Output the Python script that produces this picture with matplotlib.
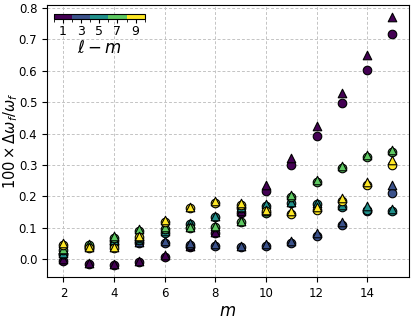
import numpy as np
import matplotlib
matplotlib.use("Agg")
import matplotlib.pyplot as plt
from matplotlib.colors import ListedColormap, BoundaryNorm
from matplotlib.cm import ScalarMappable

m = np.arange(2, 16)
l_minus_m = [1, 3, 5, 7, 9]

# circles
circ = {
    1: [-0.005, -0.015, -0.017, -0.010, 0.008, 0.038, 0.083, 0.148, 0.218, 0.300, 0.393, 0.496, 0.603, 0.716],
    3: [0.018, 0.038, 0.050, 0.052, 0.053, 0.046, 0.043, 0.039, 0.043, 0.053, 0.075, 0.110, 0.155, 0.211],
    5: [0.017, 0.042, 0.057, 0.062, 0.085, 0.112, 0.133, 0.163, 0.170, 0.178, 0.175, 0.166, 0.157, 0.155],
    7: [0.028, 0.046, 0.067, 0.090, 0.097, 0.099, 0.102, 0.118, 0.148, 0.198, 0.245, 0.290, 0.325, 0.343],
    9: [0.045, 0.035, 0.036, 0.071, 0.118, 0.162, 0.180, 0.173, 0.152, 0.145, 0.158, 0.185, 0.235, 0.300],
}
# triangles
tri = {
    1: [0.000, -0.012, -0.014, -0.007, 0.012, 0.042, 0.088, 0.152, 0.235, 0.322, 0.423, 0.530, 0.650, 0.770],
    3: [0.022, 0.042, 0.054, 0.056, 0.058, 0.051, 0.047, 0.042, 0.047, 0.057, 0.083, 0.117, 0.163, 0.237],
    5: [0.020, 0.045, 0.060, 0.066, 0.090, 0.116, 0.137, 0.166, 0.175, 0.183, 0.180, 0.172, 0.168, 0.160],
    7: [0.032, 0.050, 0.075, 0.095, 0.102, 0.104, 0.106, 0.123, 0.155, 0.205, 0.253, 0.297, 0.332, 0.348],
    9: [0.051, 0.038, 0.040, 0.075, 0.126, 0.167, 0.185, 0.178, 0.158, 0.152, 0.165, 0.195, 0.245, 0.317],
}

cmap = ListedColormap(plt.cm.viridis(np.linspace(0, 1, 5)))
norm = BoundaryNorm([0, 2, 4, 6, 8, 10], cmap.N)

fig = plt.figure(figsize=(4.16, 3.19), dpi=100)
ax = fig.add_axes([0.113, 0.132, 0.870, 0.852])

for k in l_minus_m:
    col = cmap(norm(k))
    ax.scatter(m, circ[k], s=38, marker="o", color=col, edgecolors="k", linewidths=0.8, zorder=3)
    ax.scatter(m, tri[k], s=38, marker="^", color=col, edgecolors="k", linewidths=0.8, zorder=3)

ax.set_xticks([2, 4, 6, 8, 10, 12, 14])
ax.set_yticks(np.arange(0, 0.81, 0.1))
ax.grid(True, ls=(0, (3, 2)), color="#c4c4c4", lw=0.7)
ax.set_axisbelow(True)
ax.tick_params(labelsize=8.5)
ax.set_xlabel("$m$", fontsize=12, labelpad=2)
ax.set_ylabel(r"$100\times\Delta\omega_f/\omega_f$", fontsize=10.5)
ax.yaxis.set_label_coords(-0.075, 0.5)

cax = ax.inset_axes([0.019, 0.949, 0.251, 0.018])
sm = ScalarMappable(norm=norm, cmap=cmap)
cb = fig.colorbar(sm, cax=cax, orientation="horizontal", ticks=[1, 3, 5, 7, 9])
cb.ax.tick_params(labelsize=9, length=3, pad=1)
cb.set_label(r"$\ell - m$", fontsize=12, labelpad=1)
cb.outline.set_linewidth(0.8)

fig.savefig("out.png", dpi=100)
